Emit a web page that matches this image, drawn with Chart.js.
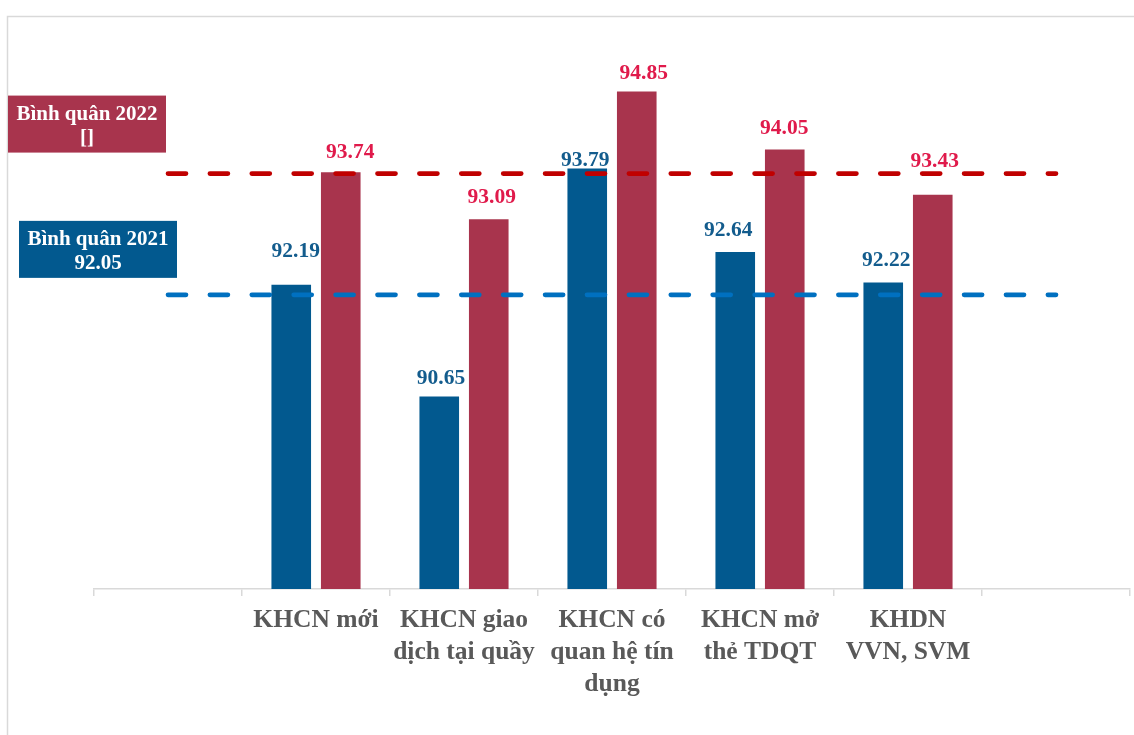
<!DOCTYPE html>
<html>
<head>
<meta charset="utf-8">
<title>Bình quân 2021 - 2022</title>
<script src="https://cdn.jsdelivr.net/npm/chart.js@4/dist/chart.umd.min.js"></script>
<style>
  html, body { margin: 0; padding: 0; background: #ffffff; }
  #wrap { position: relative; width: 1134px; height: 735px; }
</style>
</head>
<body>
<div id="wrap"><canvas id="chart" width="1134" height="735"></canvas></div>
<script>
// Categories (first and last slots are empty so the average lines run past the bars)
const categories = ['', 'KHCN mới', ['KHCN giao', 'dịch tại quầy'], ['KHCN có', 'quan hệ tín', 'dụng'], ['KHCN mở', 'thẻ TDQT'], ['KHDN', 'VVN, SVM'], ''];

// Scores per customer group
const values2021 = [null, 92.19, 90.65, 93.79, 92.64, 92.22, null];
const values2022 = [null, 93.74, 93.09, 94.85, 94.05, 93.43, null];

// Average reference lines
const average2021 = [92.05, 92.05, 92.05, 92.05, 92.05, 92.05, 92.05];
const average2022 = [93.72, 93.72, 93.72, 93.72, 93.72, 93.72, 93.72];

// Average box captions
const averageTitles = ['Bình quân 2021', 'Bình quân 2022'];
const averageTexts = ['92.05', '[]'];

const BLUE_BAR = '#02598F';
const RED_BAR = '#A8344D';
const BLUE_TEXT = '#135C8D';
const RED_TEXT = '#E01A4B';
const SERIF = '"Liberation Serif", "Times New Roman", serif';

// Light frame around the drawing
const framePlugin = {
  id: 'frame',
  beforeDraw(chart) {
    const ctx = chart.ctx;
    ctx.save();
    ctx.strokeStyle = '#d9d9d9';
    ctx.lineWidth = 1.5;
    ctx.beginPath();
    ctx.moveTo(7.5, chart.height);
    ctx.lineTo(7.5, 16.5);
    ctx.lineTo(chart.width, 16.5);
    ctx.stroke();
    ctx.restore();
  }
};

// Value labels above each bar; [dx, gap] nudges keep them clear of the dashed lines
const labelNudge = {
  '2021': [[0, 0], [4.5, 28], [1.8, 13], [-2, 3], [-7, 16], [3, 17], [0, 0]],
  '2022': [[0, 0], [9.5, 14], [3, 16.5], [7, 13], [-0.5, 16], [2, 28], [0, 0]]
};
const valueLabelPlugin = {
  id: 'valueLabels',
  afterDatasetsDraw(chart) {
    const ctx = chart.ctx;
    ctx.save();
    ctx.font = 'bold 21.5px ' + SERIF;
    ctx.textAlign = 'center';
    ctx.textBaseline = 'alphabetic';
    chart.data.datasets.forEach((ds, di) => {
      if (ds.type !== 'bar') return;
      const meta = chart.getDatasetMeta(di);
      const nudges = labelNudge[ds.label];
      ctx.fillStyle = ds.labelColor;
      meta.data.forEach((bar, i) => {
        const v = ds.data[i];
        if (v === null || v === undefined) return;
        const [dx, gap] = nudges[i];
        ctx.fillText(v.toFixed(2), bar.x + dx, bar.y - gap);
      });
    });
    ctx.restore();
  }
};

// Caption boxes for the average lines
const averageBoxPlugin = {
  id: 'averageBoxes',
  afterDraw(chart) {
    const ctx = chart.ctx;
    const y = chart.scales.y;
    const boxes = [
      { value: average2021[0], fill: BLUE_BAR, left: 19, rise: 74, title: averageTitles[0], text: averageTexts[0] },
      { value: average2022[0], fill: RED_BAR, left: 8, rise: 78, title: averageTitles[1], text: averageTexts[1] }
    ];
    ctx.save();
    boxes.forEach(b => {
      const top = y.getPixelForValue(b.value) - b.rise;
      const w = 158, h = 57;
      ctx.fillStyle = b.fill;
      ctx.fillRect(b.left, top, w, h);
      ctx.fillStyle = '#ffffff';
      ctx.font = 'bold 21px ' + SERIF;
      ctx.textAlign = 'center';
      ctx.textBaseline = 'alphabetic';
      ctx.fillText(b.title, b.left + w / 2, top + 24);
      ctx.fillText(b.text, b.left + w / 2, top + 48);
    });
    ctx.restore();
  }
};

const dashStyle = { borderWidth: 4.7, borderDash: [18, 23.9], borderCapStyle: 'round' };

new Chart(document.getElementById('chart'), {
  data: {
    labels: categories,
    datasets: [
      {
        type: 'line', label: 'Bình quân 2022', data: average2022,
        borderColor: '#C00000', pointRadius: 0, order: 0, ...dashStyle
      },
      {
        type: 'line', label: 'Bình quân 2021', data: average2021,
        borderColor: '#0070C0', pointRadius: 0, order: 0, ...dashStyle
      },
      {
        type: 'bar', label: '2021', data: values2021, backgroundColor: BLUE_BAR,
        labelColor: BLUE_TEXT, categoryPercentage: 0.669, barPercentage: 0.8, order: 1
      },
      {
        type: 'bar', label: '2022', data: values2022, backgroundColor: RED_BAR,
        labelColor: RED_TEXT, categoryPercentage: 0.669, barPercentage: 0.8, order: 1
      }
    ]
  },
  options: {
    responsive: false,
    animation: false,
    layout: { padding: { left: 94, right: 4, top: 8, bottom: 0 } },
    plugins: {
      legend: { display: false },
      tooltip: { enabled: false },
      title: { display: false }
    },
    scales: {
      x: {
        offset: true,
        grid: { display: true, drawOnChartArea: false, drawTicks: true, tickLength: 7, color: '#d9d9d9', lineWidth: 1.5, offset: true },
        border: { display: true, color: '#d9d9d9', width: 1.5 },
        ticks: {
          color: '#595959', padding: 9, maxRotation: 0, autoSkip: false,
          font: { family: SERIF, size: 25.5, weight: 'bold', lineHeight: 1.24 }
        },
        afterFit(scale) { scale.height = 146; }
      },
      y: {
        display: false,
        min: 88,
        max: 96
      }
    }
  },
  plugins: [framePlugin, valueLabelPlugin, averageBoxPlugin]
});
</script>
</body>
</html>
